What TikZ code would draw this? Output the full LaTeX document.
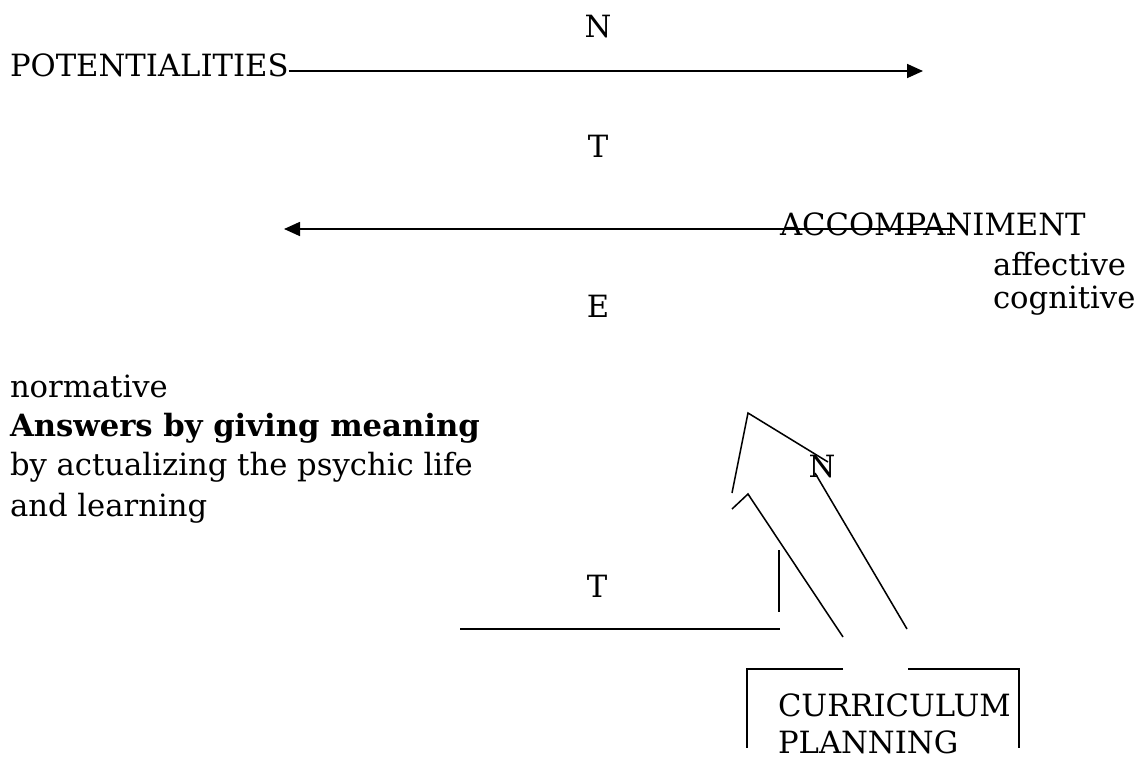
\documentclass[tikz,border=0pt]{standalone}
\usepackage{fontspec}
\setmainfont{DejaVu Serif}
\usetikzlibrary{arrows.meta}
\begin{document}
\begin{tikzpicture}[x=0.75pt,y=-0.75pt,
  txt/.style={inner sep=0pt,outer sep=0pt,font=\fontsize{23}{28}\selectfont},
  arr/.style={line width=1.3pt,-{Triangle[length=12pt,width=10.5pt]}},
  ln/.style={line width=1.15pt}]
\useasboundingbox (0,0) rectangle (1148,772);
% texts
\node[txt,anchor=base] (n1) at (598,37) {N};
\node[txt,anchor=base west] (pot) at (10,76) {POTENTIALITIES};
\node[txt,anchor=base] (t1) at (598,157) {T};
\node[txt,anchor=base west] (acc) at (780,235) {ACCOMPANIMENT};
\node[txt,anchor=base west] (aff) at (993,275) {affective};
\node[txt,anchor=base west] (cog) at (993,308) {cognitive};
\node[txt,anchor=base] (e1) at (598,317) {E};
\node[txt,anchor=base west] (nor) at (10,397) {normative};
\node[txt,anchor=base west] (ans) at (10,436) {\bfseries Answers by giving meaning};
\node[txt,anchor=base west] (act) at (10,475) {by actualizing the psychic life};
\node[txt,anchor=base west] (lrn) at (10,516) {and learning};
\node[txt,anchor=base] (n2) at (822,477) {N};
\node[txt,anchor=base] (t2) at (597,597) {T};
\node[txt,anchor=base west] (cur) at (778,716) {CURRICULUM};
\node[txt,anchor=base west] (pla) at (778,753) {PLANNING};
% arrows
\coordinate (a1s) at (pot.east |- 0,71);
\coordinate (a1e) at (923,71);
\draw[arr] (a1s) -- (a1e);
\coordinate (a2s) at (955,229);
\coordinate (a2e) at (284,229);
\draw[arr] (a2s) -- (a2e);
% big arrow shape
\coordinate (p1) at (732,493);
\coordinate (p2) at (748,413);
\coordinate (p3) at (828,462);
\draw[ln] (p1) -- (p2) -- (p3);
\coordinate (q1) at (732,509);
\coordinate (q2) at (748,494);
\coordinate (q3) at (843,637);
\draw[ln] (q1) -- (q2) -- (q3);
\coordinate (r1) at (815,473);
\coordinate (r2) at (907,629);
\draw[ln] (r1) -- (r2);
\coordinate (v1) at (779,550);
\coordinate (v2) at (779,612);
\draw[ln] (v1) -- (v2);
\coordinate (h1) at (460,629);
\coordinate (h2) at (780,629);
\draw[ln] (h1) -- (h2);
% box
\coordinate (b1) at (843,669);
\coordinate (b2) at (747,669);
\coordinate (b3) at (747,748);
\draw[ln] (b1) -- (b2) -- (b3);
\coordinate (c1) at (908,669);
\coordinate (c2) at (1019,669);
\coordinate (c3) at (1019,748);
\draw[ln] (c1) -- (c2) -- (c3);
\end{tikzpicture}
\end{document}
